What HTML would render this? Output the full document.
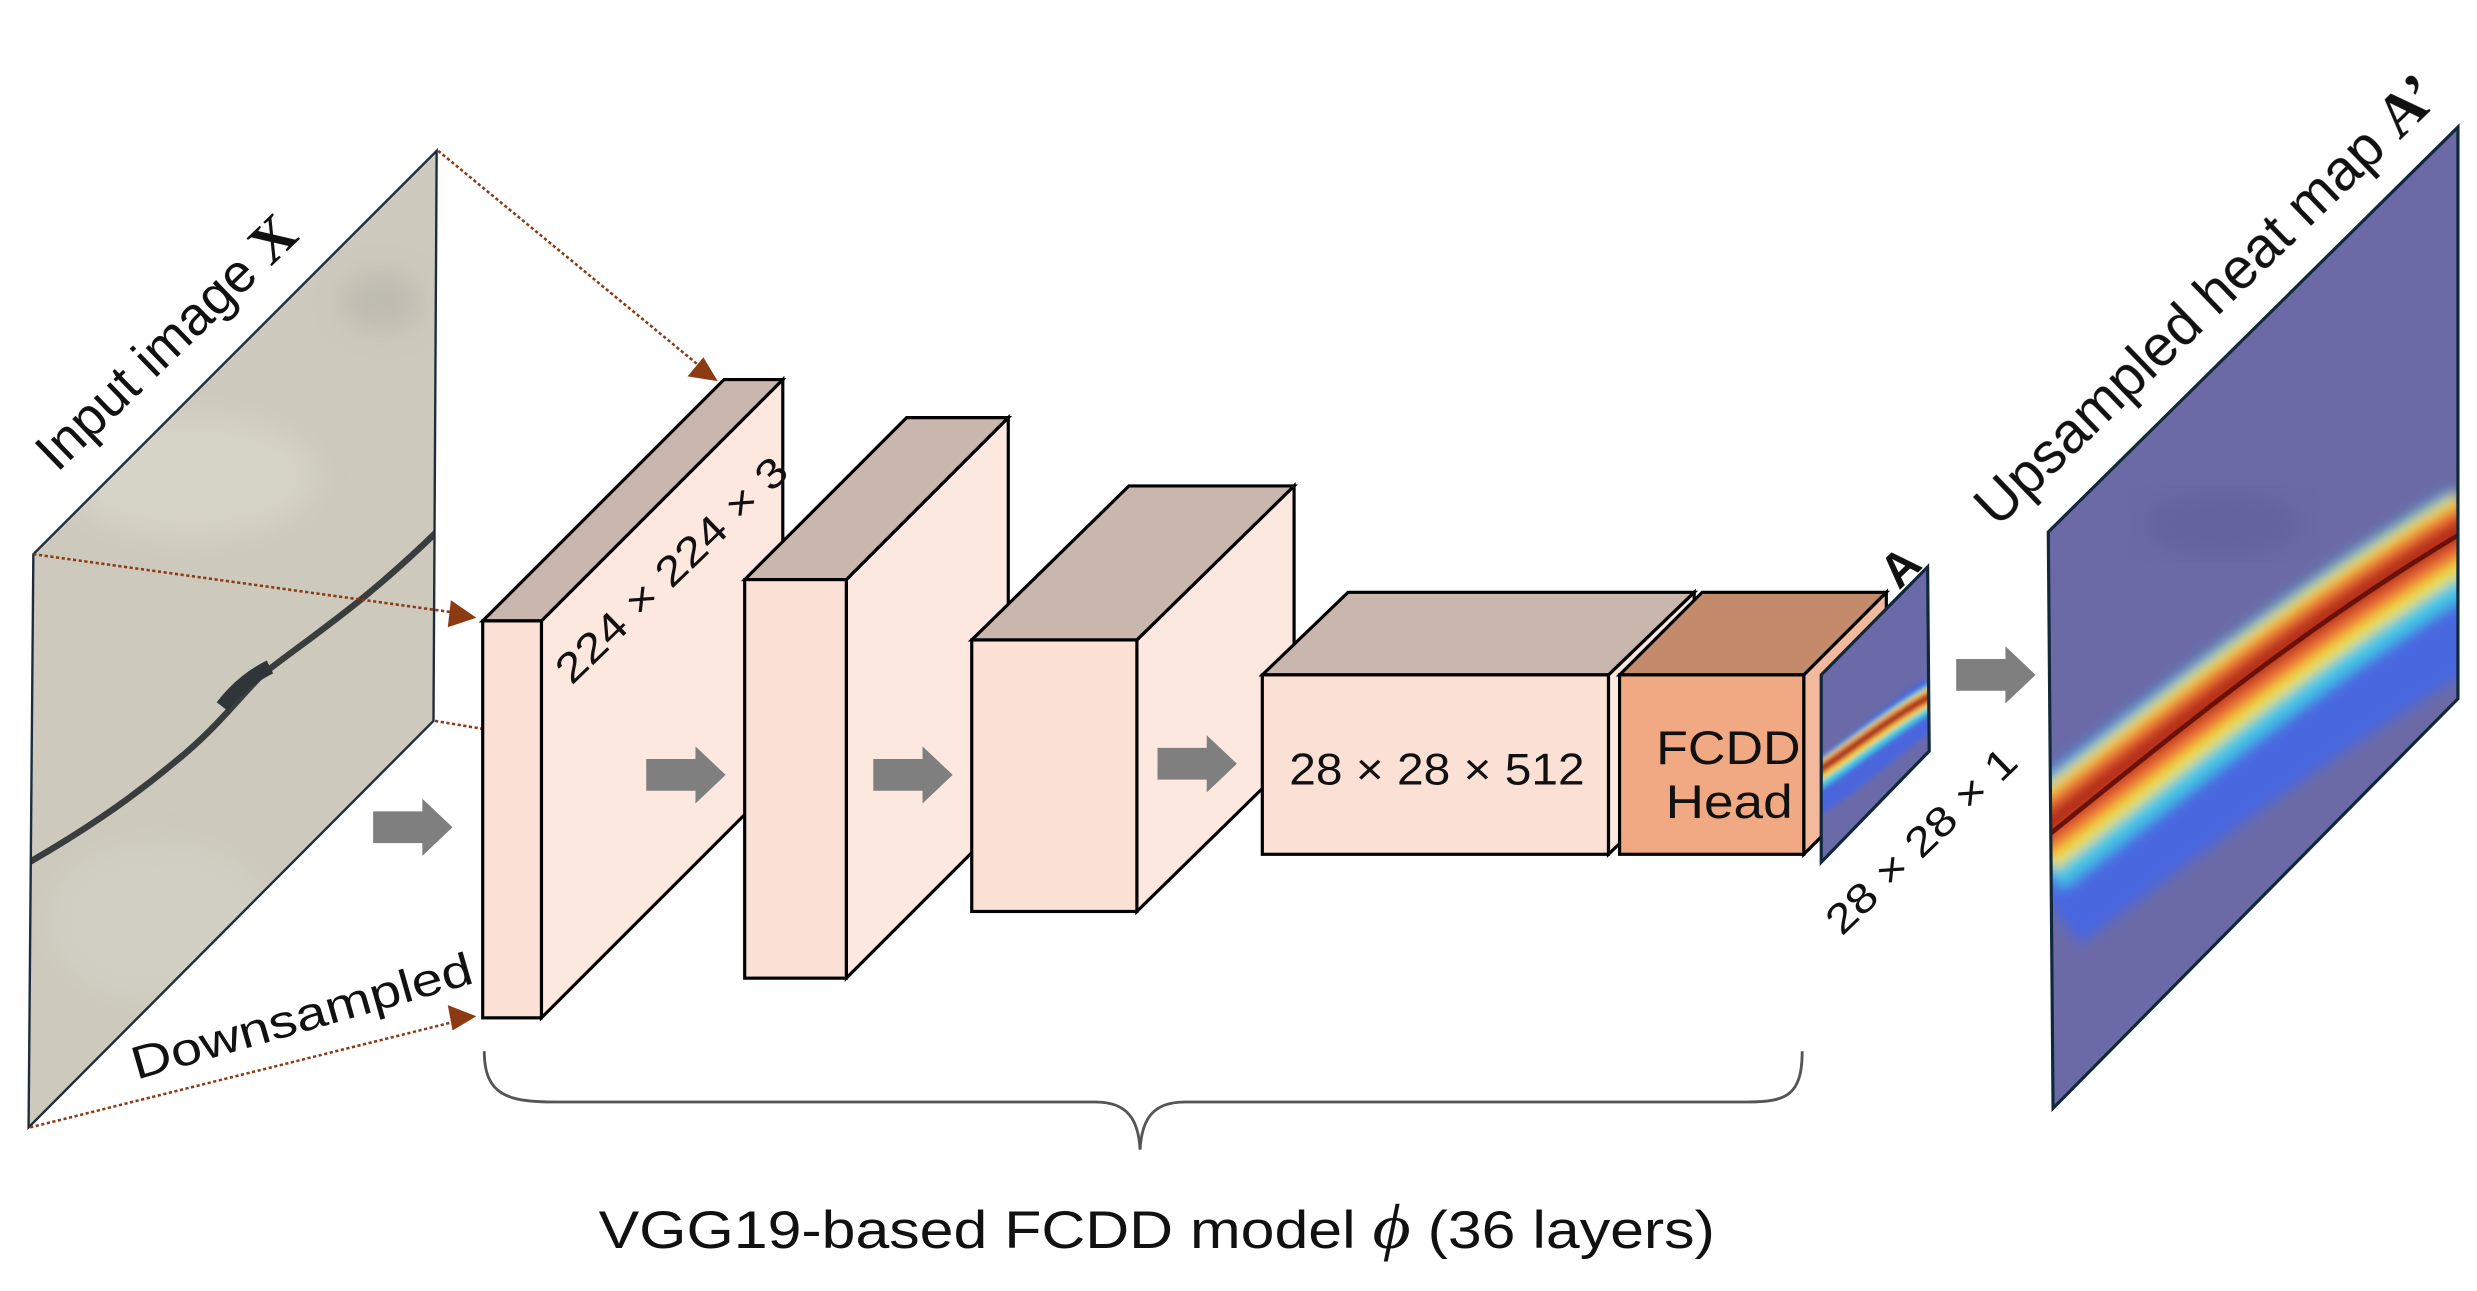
<!DOCTYPE html>
<html><head><meta charset="utf-8"><style>
html,body{margin:0;padding:0;background:#fff;}
svg{display:block;}
text{font-family:"Liberation Sans",sans-serif;fill:#111;}
</style></head><body>
<svg width="2477" height="1291" viewBox="0 0 1560 813" xmlns="http://www.w3.org/2000/svg">
<defs>
<clipPath id="cpIn"><polygon points="21,349 275,95 273,454 18,710"/></clipPath>
<clipPath id="cpBig"><polygon points="1290,335 1548,80 1548,440 1293,698"/></clipPath>
<clipPath id="cpSm"><polygon points="1147,425 1214,357 1215,473 1147,543"/></clipPath>
<filter id="bl" x="-20%" y="-50%" width="140%" height="200%"><feGaussianBlur stdDeviation="4"/></filter>
<filter id="bl2" x="-20%" y="-50%" width="140%" height="200%"><feGaussianBlur stdDeviation="1.5"/></filter>
<filter id="bl3"><feGaussianBlur stdDeviation="8"/></filter>
</defs>

<!-- Input image -->
<g clip-path="url(#cpIn)">
<rect x="0" y="80" width="300" height="650" fill="#cdc9bd"/>
<g filter="url(#bl3)">
<ellipse cx="120" cy="300" rx="80" ry="40" fill="#d8d5cb" opacity=".7"/>
<ellipse cx="240" cy="190" rx="25" ry="18" fill="#b5b2a8" opacity=".6"/>
<ellipse cx="100" cy="580" rx="70" ry="50" fill="#d3d0c6" opacity=".7"/>
</g>
<path d="M15,545 C50,525 80,505 110,480 C135,460 150,440 165,425 C190,405 230,380 280,330" stroke="#3a3d3e" stroke-width="4" fill="none"/>
<path d="M140,445 C150,432 160,425 170,420" stroke="#2f3538" stroke-width="9" fill="none"/>
</g>
<polygon points="21,349 275,95 273,454 18,710" fill="none" stroke="#1c2e3e" stroke-width="1.5"/>

<!-- dotted lines -->
<g stroke="#8b3a12" stroke-width="1.6" stroke-dasharray="2,1.6" fill="none">
<line x1="276" y1="95" x2="440" y2="230"/>
<line x1="21" y1="349" x2="288" y2="386"/>
<line x1="274" y1="454" x2="304" y2="459"/>
<line x1="19" y1="710" x2="288" y2="643"/>
</g>
<g fill="#8b3a12">
<polygon points="452,240 433,237 443,225"/>
<polygon points="300,389 282,395 284,378"/>
<polygon points="300,640 285,649 282,633"/>
</g>

<!-- Block1 -->
<polygon points="341,391 493,239 493,489 341,641" fill="#fce8df" stroke="#000" stroke-width="2"/>
<polygon points="304,391 456,239 493,239 341,391" fill="#c9b6ad" stroke="#000" stroke-width="2"/>
<rect x="304" y="391" width="37" height="250" fill="#fbe1d5" stroke="#000" stroke-width="2"/>
<!-- Block2 -->
<polygon points="533,365 635,263 635,514 533,616" fill="#fce8df" stroke="#000" stroke-width="2"/>
<polygon points="469,365 571,263 635,263 533,365" fill="#c9b6ad" stroke="#000" stroke-width="2"/>
<rect x="469" y="365" width="64" height="251" fill="#fbe1d5" stroke="#000" stroke-width="2"/>
<!-- Block3 -->
<polygon points="716,403 815,306 815,477 716,574" fill="#fce8df" stroke="#000" stroke-width="2"/>
<polygon points="612,403 711,306 815,306 716,403" fill="#c9b6ad" stroke="#000" stroke-width="2"/>
<rect x="612" y="403" width="104" height="171" fill="#fbe1d5" stroke="#000" stroke-width="2"/>
<!-- Block4 -->
<polygon points="1013,425 1067,373 1067,486 1013,538" fill="#fce8df" stroke="#000" stroke-width="2"/>
<polygon points="795,425 849,373 1067,373 1013,425" fill="#c9b6ad" stroke="#000" stroke-width="2"/>
<rect x="795" y="425" width="218" height="113" fill="#fbe1d5" stroke="#000" stroke-width="2"/>
<!-- FCDD head -->
<polygon points="1136,425 1188,373 1188,486 1136,538" fill="#f3b99c" stroke="#000" stroke-width="2"/>
<polygon points="1020,425 1072,373 1188,373 1136,425" fill="#c48a6c" stroke="#000" stroke-width="2"/>
<rect x="1020" y="425" width="116" height="113" fill="#f0a983" stroke="#000" stroke-width="2"/>

<!-- gray arrows -->
<g fill="#7f7f7f">
<polygon points="235,511 266,511 266,503 285,521 266,539 266,531 235,531"/>
<polygon points="407,478 438,478 438,470 457,488 438,506 438,498 407,498"/>
<polygon points="550,478 581,478 581,470 600,488 581,506 581,498 550,498"/>
<polygon points="729,471 760,471 760,463 779,481 760,499 760,491 729,491"/>
<polygon points="1232,415 1263,415 1263,407 1282,425 1263,443 1263,435 1232,435"/>
</g>

<!-- small heatmap -->
<g clip-path="url(#cpSm)">
<rect x="1140" y="350" width="80" height="200" fill="#6a6aa8"/>
<g filter="url(#bl2)" fill="none">
<path d="M1140,500 C1170,480 1190,460 1220,440" stroke="#4b66dc" stroke-width="30"/>
<path d="M1140,492 C1170,472 1190,455 1220,437" stroke="#3cc8e8" stroke-width="16"/>
<path d="M1140,490 C1170,470 1190,453 1220,436" stroke="#f0e040" stroke-width="11"/>
<path d="M1140,489 C1170,469 1190,452 1220,436" stroke="#ec6a3a" stroke-width="7"/>
<path d="M1140,489 C1170,469 1190,452 1220,436" stroke="#8a1a12" stroke-width="3"/>
</g>
</g>
<polygon points="1147,425 1214,357 1215,473 1147,543" fill="none" stroke="#10283a" stroke-width="2"/>

<!-- big heatmap -->
<g clip-path="url(#cpBig)">
<rect x="1280" y="70" width="280" height="640" fill="#6b6aa6"/>
<ellipse cx="1400" cy="330" rx="50" ry="20" fill="#5d5c98" opacity=".5" filter="url(#bl3)"/>
<g filter="url(#bl)" fill="none">
<path d="M1280,555 C1360,495 1450,425 1560,362" stroke="#4a68e0" stroke-width="100"/>
<path d="M1280,535 C1360,475 1450,400 1560,335" stroke="#3fc6e6" stroke-width="62"/>
<path d="M1280,530 C1360,470 1450,395 1560,330" stroke="#efe03c" stroke-width="46"/>
<path d="M1280,528 C1360,468 1450,393 1560,328" stroke="#ee6a38" stroke-width="30"/>
<path d="M1280,527 C1360,467 1450,392 1560,327" stroke="#b02818" stroke-width="13"/>
</g>
<path d="M1285,530 C1360,470 1450,394 1560,330" stroke="#6a1208" stroke-width="3" fill="none"/>
</g>
<polygon points="1290,335 1548,80 1548,440 1293,698" fill="none" stroke="#10283a" stroke-width="2"/>

<!-- brace -->
<path d="M305,662 C305,690 320,694 350,694 L690,694 C710,694 717,705 718,724 C719,705 726,694 746,694 L1100,694 C1125,694 1135,690 1135,662" fill="none" stroke="#555" stroke-width="1.8"/>

<!-- texts -->
<text x="377" y="786" font-size="33" textLength="703" lengthAdjust="spacingAndGlyphs">VGG19-based FCDD model <tspan font-family="Liberation Serif" font-style="italic" font-size="40">ϕ</tspan> (36 layers)</text>
<text transform="translate(36,298) rotate(-44)" font-size="34">Input image <tspan font-family="Liberation Serif" font-weight="bold" font-size="36">X</tspan></text>
<text transform="translate(86,680) rotate(-16)" font-size="29" textLength="222" lengthAdjust="spacingAndGlyphs">Downsampled</text>
<text transform="translate(360,432) rotate(-44)" font-size="26" textLength="192" lengthAdjust="spacingAndGlyphs">224 × 224 × 3</text>
<text x="812" y="494" font-size="28" textLength="186" lengthAdjust="spacingAndGlyphs">28 × 28 × 512</text>
<text x="1043" y="481" font-size="30" textLength="91" lengthAdjust="spacingAndGlyphs">FCDD</text>
<text x="1049" y="515" font-size="30" textLength="80" lengthAdjust="spacingAndGlyphs">Head</text>
<text transform="translate(1160,590) rotate(-44)" font-size="26" textLength="156" lengthAdjust="spacingAndGlyphs">28 × 28 × 1</text>
<text transform="translate(1196,372) rotate(-44)" font-size="30" font-family="Liberation Serif" font-weight="bold">A</text>
<text transform="translate(1258,333) rotate(-44)" font-size="36">Upsampled heat map <tspan font-family="Liberation Serif" font-weight="bold" font-size="38">A’</tspan></text>
</svg>
</body></html>
